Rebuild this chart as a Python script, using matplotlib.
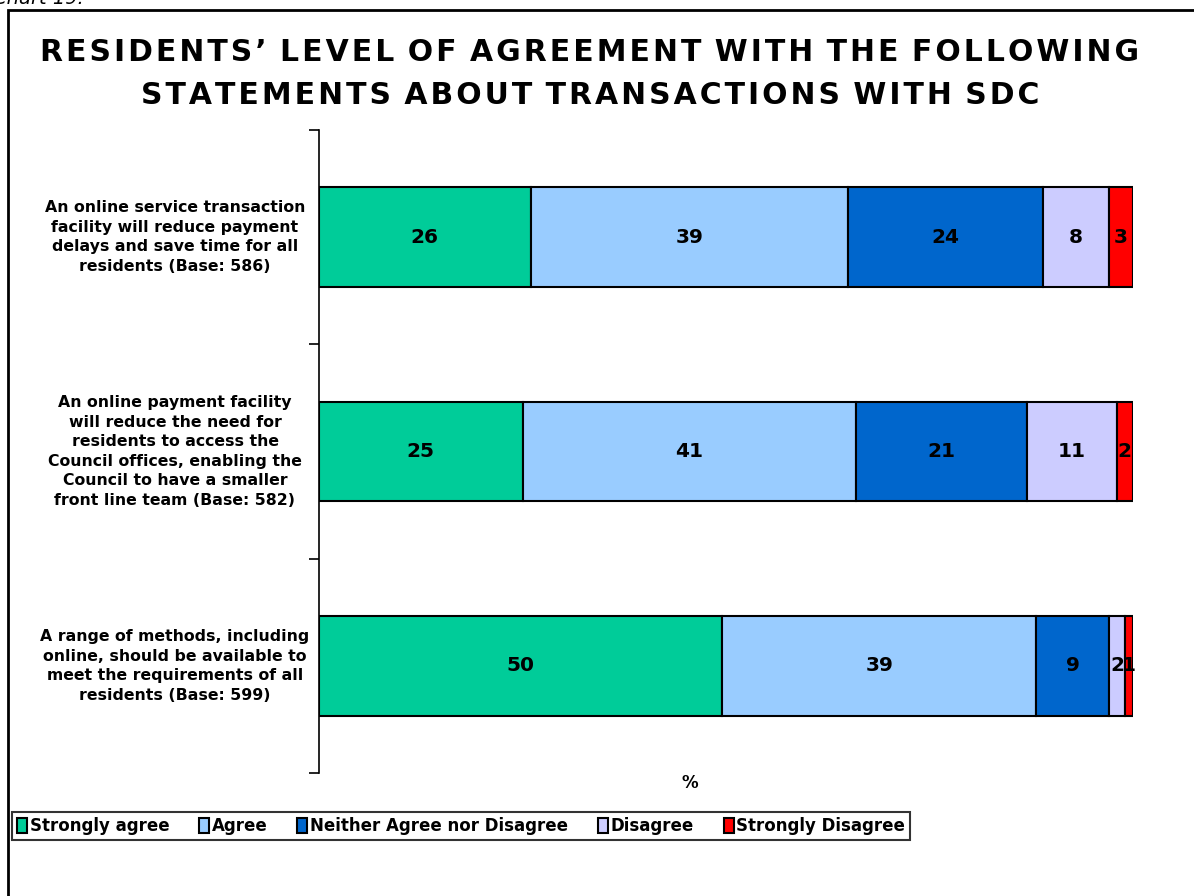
import numpy as np
import matplotlib.pyplot as plt
from matplotlib.patches import Rectangle

plt.rcParams['font.family'] = 'DejaVu Sans'

# data (top row first)
statements = [
    "An online service transaction\nfacility will reduce payment\ndelays and save time for all\nresidents (Base: 586)",
    "An online payment facility\nwill reduce the need for\nresidents to access the\nCouncil offices, enabling the\nCouncil to have a smaller\nfront line team (Base: 582)",
    "A range of methods, including\nonline, should be available to\nmeet the requirements of all\nresidents (Base: 599)",
]
series = ["Strongly agree", "Agree", "Neither Agree nor Disagree",
          "Disagree", "Strongly Disagree"]
strongly_agree = [26, 25, 50]
agree = [39, 41, 39]
neither = [24, 21, 9]
disagree = [8, 11, 2]
strongly_disagree = [3, 2, 1]
colors = ["#00CC99", "#99CCFF", "#0066CC", "#CCCCFF", "#FF0000"]

title_lines = ["RESIDENTS\u2019 LEVEL OF AGREEMENT WITH THE FOLLOWING",
               "STATEMENTS ABOUT TRANSACTIONS WITH SDC"]

values = np.array([strongly_agree, agree, neither, disagree, strongly_disagree], dtype=float)
# 100% stacked: each row scaled to its own total
shares = values / values.sum(axis=0) * 100

W, H = 1194, 896
fig = plt.figure(figsize=(W / 100, H / 100), dpi=100)
ax = fig.add_axes([319 / W, 1 - 773 / H, (1133 - 319) / W, (773 - 130) / H])

ypos = np.arange(len(statements))[::-1]
left = np.zeros(len(statements))
for i, name in enumerate(series):
    ax.barh(ypos, shares[i], left=left, height=0.465, color=colors[i],
            edgecolor='black', linewidth=1.5, label=name)
    for y, l, w, v in zip(ypos, left, shares[i], values[i]):
        ax.text(l + w / 2, y, "%d" % v, ha='center', va='center',
                fontsize=14.5, fontweight='bold')
    left += shares[i]

ax.set_xlim(0, 100)
ax.set_ylim(-0.5, 2.5)
ax.set_xticks([])
ax.set_yticks([-0.5, 0.5, 1.5, 2.5])
ax.set_yticklabels([])
ax.tick_params(axis='y', direction='out', length=7, width=1.2)
for s in ['top', 'right', 'bottom']:
    ax.spines[s].set_visible(False)
ax.spines['left'].set_linewidth(1.2)

trans = ax.get_yaxis_transform()
for y, txt in zip(ypos, statements):
    ax.text((175 - 319) / (1133 - 319), y, txt, transform=trans, ha='center',
            va='center', fontsize=11.3, fontweight='bold', multialignment='center',
            linespacing=1.38)


def letter_spaced(s):
    # hair space between letters and one after each word gap
    out = ""
    for a, b in zip(s, s[1:] + " "):
        out += a
        if b != " ":
            out += "\u200a"
    return out.rstrip("\u200a")


for line, base in zip(title_lines, [61, 104]):
    fig.text(590 / W, 1 - base / H, letter_spaced(line), ha='center',
             va='baseline', fontsize=21.5, fontweight='bold')
fig.text(690 / W, 1 - 783 / H, "%", ha='center', va='center',
         fontsize=12, fontweight='bold')

leg = fig.legend(loc='center left', bbox_to_anchor=(12 / W, 1 - 826 / H), ncol=5,
                 frameon=True, fancybox=False, edgecolor='black', fontsize=12,
                 handlelength=0.6, handleheight=1.0, handletextpad=0.15,
                 columnspacing=1.8, borderpad=0.3, borderaxespad=0)
leg.get_frame().set_linewidth(1.5)
for t in leg.get_texts():
    t.set_fontweight('bold')

# outer chart frame and cut-off caption
fig.patches.append(Rectangle((8 / W, -0.05), 1.2, 1 - 10 / H + 0.05,
                             transform=fig.transFigure, fill=False,
                             edgecolor='black', linewidth=2))
fig.text(84 / W, 1 + 2 / H, "Chart 19:", ha='right', va='center',
         fontsize=14, style='italic')

fig.savefig("out.png", dpi=100)
